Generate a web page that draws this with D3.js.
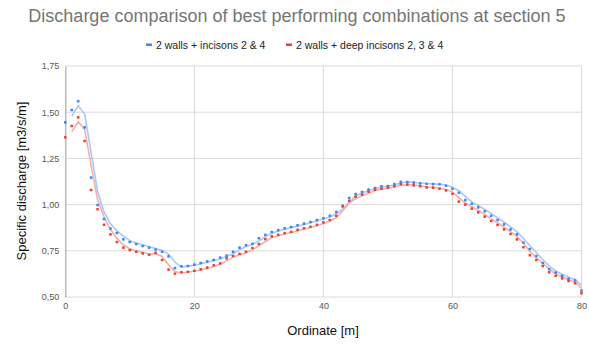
<!DOCTYPE html>
<html><head><meta charset="utf-8">
<script src="https://cdn.jsdelivr.net/npm/d3@7"></script>
<style>body{margin:0;background:#fff;font-family:"Liberation Sans",Arial,sans-serif}</style>
</head><body><svg id="c" width="589" height="347"></svg>
<script>
const ordinates = d3.range(0, 81);
const seriesNames = ["2 walls + incisons 2 & 4", "2 walls + deep incisons 2, 3 & 4"];
const blueValues = [1.445,1.512,1.559,1.418,1.146,0.998,0.922,0.870,0.846,0.812,0.798,0.787,0.776,0.767,0.757,0.745,0.720,0.656,0.666,0.668,0.675,0.684,0.693,0.700,0.713,0.724,0.744,0.767,0.780,0.788,0.818,0.837,0.852,0.862,0.872,0.879,0.888,0.897,0.906,0.917,0.926,0.940,0.960,0.990,1.036,1.057,1.068,1.081,1.090,1.099,1.101,1.111,1.124,1.122,1.119,1.115,1.113,1.111,1.110,1.102,1.086,1.064,1.024,1.005,0.985,0.964,0.940,0.917,0.893,0.866,0.839,0.794,0.760,0.722,0.684,0.650,0.632,0.615,0.599,0.590,0.535];
const redValues = [1.364,1.425,1.472,1.344,1.079,0.975,0.891,0.839,0.798,0.767,0.754,0.745,0.736,0.729,0.739,0.700,0.648,0.626,0.634,0.637,0.642,0.650,0.659,0.672,0.682,0.709,0.722,0.734,0.745,0.765,0.787,0.814,0.828,0.836,0.846,0.853,0.863,0.872,0.880,0.891,0.904,0.917,0.940,0.994,1.021,1.043,1.054,1.070,1.080,1.086,1.092,1.099,1.111,1.108,1.104,1.099,1.093,1.092,1.086,1.077,1.059,1.016,1.000,0.978,0.958,0.935,0.911,0.890,0.866,0.841,0.812,0.769,0.726,0.700,0.668,0.634,0.615,0.601,0.587,0.574,0.521];
const xTicks = [0, 20, 40, 60, 80];
const yTicks = [0.50, 0.75, 1.00, 1.25, 1.50, 1.75];
const colors = ["#4285f4", "#ea4335"];
const trendColors = ["#a8c7fa", "#f6aea9"];

const svg = d3.select("#c");
const L = 65.3, R = 581.5, T = 66, B = 297;
const x = d3.scaleLinear().domain([0, 80]).range([L, R]);
const y = d3.scaleLinear().domain([0.5, 1.75]).range([B, T]);
const fmt = v => d3.format(".2f")(v).replace(".", ",");

// grid
svg.append("g").selectAll("line").data(yTicks).join("line")
  .attr("x1", L).attr("x2", R).attr("y1", d => y(d)).attr("y2", d => y(d))
  .attr("stroke", "#dadada").attr("stroke-width", 1);
svg.append("g").selectAll("line").data(xTicks.slice(1)).join("line")
  .attr("x1", d => x(d)).attr("x2", d => x(d)).attr("y1", T).attr("y2", B)
  .attr("stroke", "#dadada").attr("stroke-width", 1);

// axes
const yAxis = svg.append("g").attr("transform", `translate(${L},0)`)
  .call(d3.axisLeft(y).tickValues(yTicks).tickFormat(fmt).tickSize(0).tickPadding(6));
yAxis.select(".domain").attr("stroke", "#999");
yAxis.selectAll("text").attr("fill", "#555").style("font-size", "9px").style("font-family", "Liberation Sans, Arial");
const xAxis = svg.append("g").attr("transform", `translate(0,${B})`)
  .call(d3.axisBottom(x).tickValues(xTicks).tickSize(0).tickPadding(6));
xAxis.select(".domain").remove();
xAxis.selectAll("text").attr("fill", "#555").style("font-size", "9px").style("font-family", "Liberation Sans, Arial");

// series
const series = [blueValues, redValues];
series.forEach((vals, i) => {
  // moving-average (period 2) trendline as in source chart
  const ma = ordinates.slice(1).map(o => ({o, v: (vals[o] + vals[o - 1]) / 2}));
  svg.append("path").datum(ma)
    .attr("fill", "none").attr("stroke", trendColors[i]).attr("stroke-width", 1.6)
    .attr("d", d3.line().x(d => x(d.o)).y(d => y(d.v)));
});
series.forEach((vals, i) => {
  svg.append("g").selectAll("rect").data(ordinates).join("rect")
    .attr("x", o => x(o) - 1.3).attr("y", o => y(vals[o]) - 1.3)
    .attr("width", 2.6).attr("height", 2.6).attr("rx", 0.6)
    .attr("fill", colors[i]);
});

// title
svg.append("text").attr("x", 297).attr("y", 22).attr("text-anchor", "middle")
  .attr("fill", "#757575").style("font-size", "18px").text("Discharge comparison of best performing combinations at section 5");

// legend
const leg = svg.append("g").style("font-size", "10.5px");
const legX = [146, 286];
seriesNames.forEach((n, i) => {
  leg.append("rect").attr("x", legX[i]).attr("y", 43.5).attr("width", 6).attr("height", 2.5).attr("fill", colors[i]);
  leg.append("text").attr("x", legX[i] + 10).attr("y", 48.5).attr("fill", "#222").text(n);
});

// axis titles
svg.append("text").attr("x", 323).attr("y", 335).attr("text-anchor", "middle")
  .attr("fill", "#111").style("font-size", "13px").text("Ordinate [m]");
svg.append("text").attr("transform", "translate(26,181) rotate(-90)").attr("text-anchor", "middle")
  .attr("fill", "#111").style("font-size", "13px").text("Specific discharge [m3/s/m]");
</script></body></html>
